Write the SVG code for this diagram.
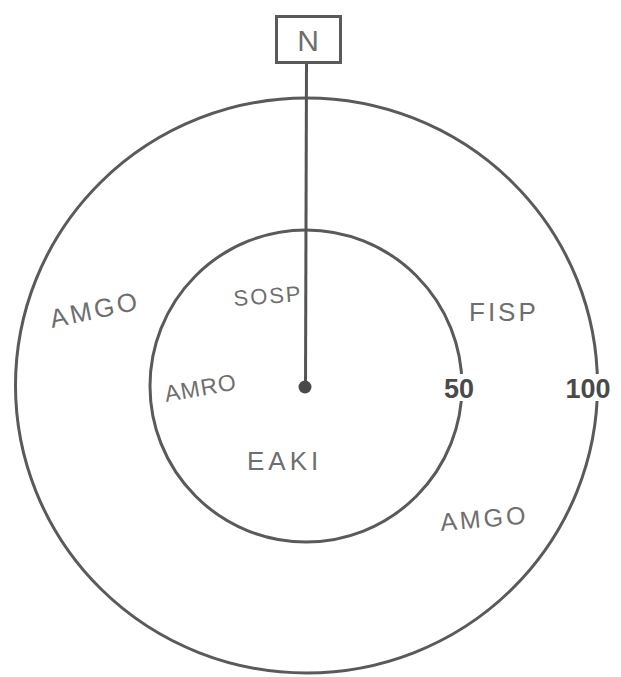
<svg xmlns="http://www.w3.org/2000/svg" width="621" height="677" viewBox="0 0 621 677">
<style>
.ring{fill:none;stroke:#5a5a5a;stroke-width:3}
.hand{font-family:"Liberation Sans",Arial,sans-serif;fill:#6e6e6e;font-size:24px;letter-spacing:3px}
.num{font-family:"Liberation Sans",Arial,sans-serif;font-weight:bold;fill:#4a4a4a;font-size:27px}
</style>
<rect width="621" height="677" fill="#ffffff"/>
<g id="outer-ring"><ellipse class="ring" cx="306.5" cy="385.5" rx="291" ry="287.5"/></g>
<g id="inner-ring"><ellipse class="ring" cx="306" cy="386" rx="156" ry="156"/></g>
<g id="connectors">
<line x1="306.5" y1="63" x2="305.5" y2="386" stroke="#555" stroke-width="3"/>
<circle cx="305" cy="387" r="6.5" fill="#4a4a4a"/>
</g>
<g id="north">
<rect x="276.5" y="16.5" width="64" height="46" fill="#fff" stroke="#5a5a5a" stroke-width="3"/>
<text x="308" y="51" text-anchor="middle" class="hand" style="font-size:30px;letter-spacing:0" fill="#666">N</text>
</g>
<g id="label-50">
<rect x="440" y="374" width="40" height="27" fill="#fff"/>
<text class="num" x="459" y="398" text-anchor="middle">50</text>
</g>
<g id="label-100">
<rect x="560" y="374" width="58" height="27" fill="#fff"/>
<text class="num" x="588" y="398" text-anchor="middle">100</text>
</g>
<g id="amgo-left"><text class="hand" x="52" y="328" transform="rotate(-12 52 328)" style="font-size:26px">AMGO</text></g>
<g id="sosp"><text class="hand" x="234" y="306" transform="rotate(-4 234 306)" style="font-size:22px;letter-spacing:2px">SOSP</text></g>
<g id="amro"><text class="hand" x="166" y="402" transform="rotate(-10 166 402)" style="font-size:23px;letter-spacing:1px">AMRO</text></g>
<g id="fisp"><text class="hand" x="469" y="321" style="font-size:26px">FISP</text></g>
<g id="eaki"><text class="hand" x="247" y="470" style="font-size:26px;letter-spacing:4px">EAKI</text></g>
<g id="amgo-right"><text class="hand" x="441" y="531" transform="rotate(-5 441 531)" style="font-size:25px">AMGO</text></g>
</svg>
